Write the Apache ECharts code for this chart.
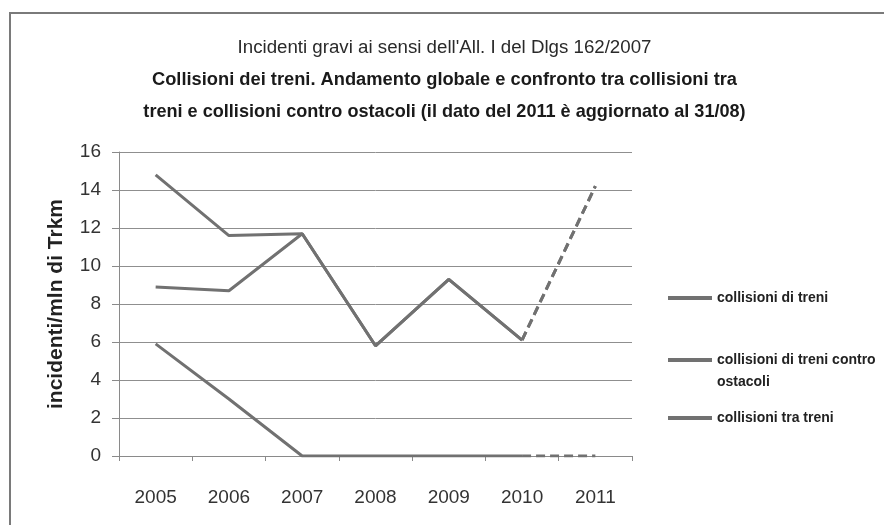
<!DOCTYPE html>
<html>
<head>
<meta charset="utf-8">
<script src="https://cdn.jsdelivr.net/npm/echarts@6/dist/echarts.min.js"></script>
<style>
  html, body { margin: 0; padding: 0; background: #fff; }
  #chart { width: 889px; height: 525px; }
</style>
</head>
<body>
<div id="chart"></div>
<script>
// Years on the category axis
const years = ['2005', '2006', '2007', '2008', '2009', '2010', '2011'];

// Rates (incidents per million train-km); 2011 is a partial-year figure
const collisioniTreni    = [14.8, 11.6, 11.7, 5.8, 9.3, 6.1, 14.2];
const collisioniOstacoli = [8.9, 8.7, 11.7, 5.8, 9.3, 6.1, 14.2];
const collisioniTraTreni = [5.9, 3.0, 0, 0, 0, 0, 0];

// Y axis ticks
const yTicks = [0, 2, 4, 6, 8, 10, 12, 14, 16];

const seriesNames = [
  'collisioni di treni',
  'collisioni di treni contro ostacoli',
  'collisioni tra treni'
];

const titleLines = [
  "Incidenti gravi ai sensi dell'All. I del Dlgs 162/2007",
  'Collisioni dei treni. Andamento globale e confronto tra collisioni tra',
  'treni e collisioni contro ostacoli (il dato del 2011 è aggiornato al 31/08)'
];

const yAxisTitle = 'incidenti/mln di Trkm';

const LINE_COLOR = '#717171';
const NARROW = "'Liberation Sans Narrow', 'Arial Narrow', sans-serif";
const SANS = "'Liberation Sans', Arial, sans-serif";

// Split a series into the consolidated years (solid) and the last,
// provisional segment (dashed).
const lastIdx = years.length - 1;
function solidPart(values) {
  return values.map((v, i) => (i < lastIdx ? v : null));
}
function provisionalPart(values) {
  return values.map((v, i) => (i >= lastIdx - 1 ? v : null));
}

const allValues = [collisioniTreni, collisioniOstacoli, collisioniTraTreni];
const series = [];
allValues.forEach((values, k) => {
  series.push({
    name: seriesNames[k],
    type: 'line',
    data: solidPart(values),
    symbol: 'none',
    lineStyle: { color: LINE_COLOR, width: 3 },
    itemStyle: { color: LINE_COLOR },
    z: 3 - k
  });
  series.push({
    name: seriesNames[k],
    type: 'line',
    data: provisionalPart(values),
    symbol: 'none',
    lineStyle: { color: LINE_COLOR, width: 3, type: [9, 5] },
    itemStyle: { color: LINE_COLOR },
    z: 3 - k
  });
});

const legendBase = {
  orient: 'vertical',
  left: 663,
  itemWidth: 44,
  itemHeight: 4,
  itemGap: 4,
  icon: 'rect',
  selectedMode: false,
  textStyle: {
    fontFamily: NARROW,
    fontWeight: 'bold',
    fontSize: 14,
    color: '#222',
    lineHeight: 22
  }
};

const option = {
  backgroundColor: '#ffffff',
  animation: false,
  title: [
    {
      text: titleLines[0],
      left: 'center',
      top: 33,
      textStyle: { fontFamily: NARROW, fontWeight: 'normal', fontSize: 18.7, color: '#2a2a2a' }
    },
    {
      text: titleLines[1],
      left: 'center',
      top: 66,
      textStyle: { fontFamily: NARROW, fontWeight: 'bold', fontSize: 18.3, color: '#1a1a1a' }
    },
    {
      text: titleLines[2],
      left: 'center',
      top: 98,
      textStyle: { fontFamily: NARROW, fontWeight: 'bold', fontSize: 18.1, color: '#1a1a1a' }
    }
  ],
  graphic: [
    {
      type: 'polyline',
      shape: { points: [[10, 530], [10, 13], [884, 13]] },
      style: { stroke: '#7a7a7a', lineWidth: 2, fill: null },
      silent: true
    }
  ],
  legend: [
    Object.assign({}, legendBase, { top: 282, data: [seriesNames[0]] }),
    Object.assign({}, legendBase, {
      top: 322,
      data: [seriesNames[1]],
      formatter: () => '\ncollisioni di treni contro\nostacoli'
    }),
    Object.assign({}, legendBase, { top: 402, data: [seriesNames[2]] })
  ],
  grid: {
    left: 119,
    right: 257,
    top: 152,
    bottom: 69,
    containLabel: false
  },
  xAxis: {
    type: 'category',
    data: years,
    boundaryGap: true,
    axisLine: { lineStyle: { color: '#8a8a8a', width: 1 } },
    axisTick: { show: true, length: 5, lineStyle: { color: '#8a8a8a' } },
    axisLabel: {
      fontFamily: SANS,
      fontSize: 19,
      color: '#333',
      margin: 32
    }
  },
  yAxis: {
    type: 'value',
    min: yTicks[0],
    max: yTicks[yTicks.length - 1],
    interval: yTicks[1] - yTicks[0],
    name: yAxisTitle,
    nameLocation: 'middle',
    nameGap: 52,
    nameRotate: 90,
    nameTextStyle: { fontFamily: SANS, fontWeight: 'bold', fontSize: 21, color: '#222' },
    axisLine: { show: true, lineStyle: { color: '#8a8a8a', width: 1 } },
    axisTick: { show: true, length: 7, lineStyle: { color: '#8a8a8a' } },
    splitLine: { show: true, lineStyle: { color: '#8f8f8f', width: 1 } },
    axisLabel: {
      fontFamily: SANS,
      fontSize: 19,
      color: '#333',
      margin: 18,
      formatter: (v) => (yTicks.indexOf(v) >= 0 ? String(v) : '')
    }
  },
  series: series
};

const chart = echarts.init(document.getElementById('chart'), null, { renderer: 'canvas' });
chart.setOption(option);
</script>
</body>
</html>
